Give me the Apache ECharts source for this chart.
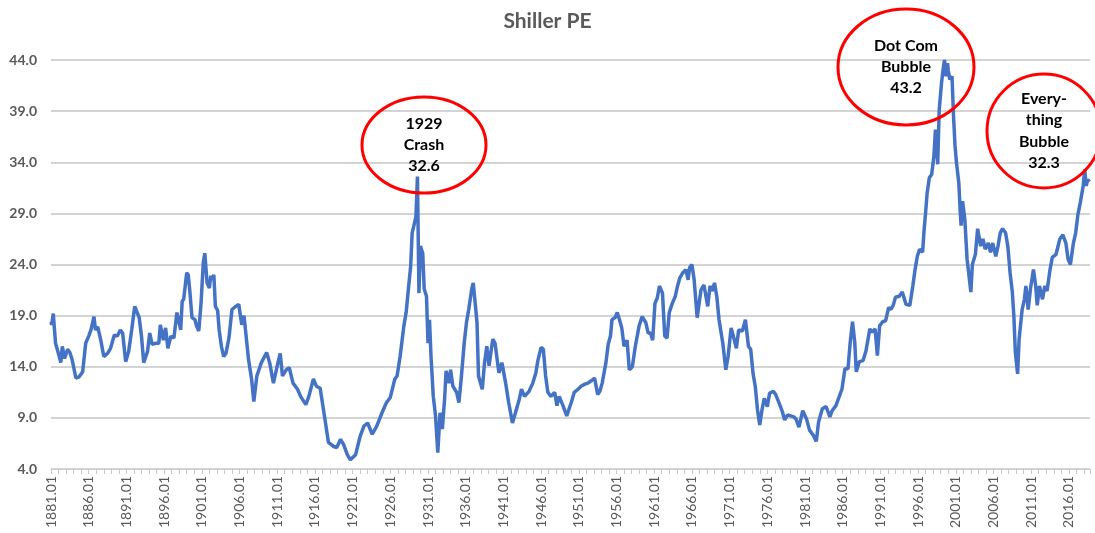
<!DOCTYPE html>
<html>
<head>
<meta charset="utf-8">
<script src="https://cdn.jsdelivr.net/npm/echarts@6/dist/echarts.min.js"></script>
<style>html,body{margin:0;padding:0;background:#fff}#c{width:1095px;height:533px}</style>
</head>
<body>
<div id="c"></div>
<script>
// ---- data (decimal year, Shiller PE) ----
const years = [
1881.0,1881.1,1881.3,1881.6,1882.1,1882.3,1882.5,1882.8,1883.2,1883.5,1883.8,1884.3,1884.7,1885.2,1885.6,
1886.0,1886.3,1886.7,1886.9,1887.2,1887.6,1888.0,1888.5,1888.9,1889.4,1889.8,1890.2,1890.5,1890.9,1891.3,
1891.7,1892.1,1892.7,1893.0,1893.3,1893.8,1894.1,1894.4,1894.9,1895.3,1895.5,1895.9,1896.2,1896.5,1896.9,
1897.3,1897.7,1898.0,1898.2,1898.4,1898.6,1899.0,1899.2,1899.4,1899.7,1900.1,1900.3,1900.6,1900.9,1901.2,
1901.4,1901.7,1902.0,1902.2,1902.4,1902.6,1902.8,1903.1,1903.3,1903.6,1903.9,1904.2,1904.6,1905.0,1905.5,
1905.9,1906.3,1906.6,1907.2,1907.6,1907.9,1908.3,1908.9,1909.6,1910.0,1910.5,1911.1,1911.4,1911.7,1912.2,
1912.6,1913.1,1913.7,1914.1,1914.8,1915.2,1915.8,1916.2,1916.7,1917.2,1917.8,1918.5,1918.9,1919.4,1919.8,
1920.3,1920.7,1921.4,1922.0,1922.5,1923.0,1923.6,1924.2,1924.9,1925.5,1926.0,1926.2,1926.6,1926.9,1927.3,
1927.8,1928.1,1928.4,1928.7,1928.9,1929.1,1929.4,1929.6,1929.8,1930.0,1930.3,1930.5,1930.8,1931.0,1931.2,
1931.4,1931.7,1932.0,1932.3,1932.6,1932.9,1933.2,1933.4,1933.8,1934.0,1934.3,1934.8,1935.1,1935.4,1935.8,
1936.1,1936.4,1936.8,1937.0,1937.3,1937.5,1937.7,1938.2,1938.5,1938.8,1939.1,1939.4,1939.6,1939.9,1940.4,
1940.8,1941.3,1941.7,1942.2,1942.6,1943.1,1943.4,1943.8,1944.4,1944.9,1945.3,1945.6,1946.0,1946.3,1946.6,
1946.9,1947.3,1947.8,1948.1,1948.4,1948.9,1949.4,1950.0,1950.4,1950.9,1951.3,1951.8,1952.2,1952.6,1953.1,
1953.5,1953.8,1954.1,1954.6,1954.9,1955.2,1955.4,1955.8,1956.1,1956.4,1956.7,1957.0,1957.4,1957.7,1958.1,
1958.5,1959.0,1959.4,1959.9,1960.2,1960.5,1960.8,1961.1,1961.4,1961.7,1962.1,1962.4,1962.7,1963.0,1963.4,
1963.8,1964.1,1964.4,1964.8,1965.2,1965.5,1965.7,1966.0,1966.3,1966.7,1967.2,1967.6,1968.1,1968.4,1968.7,
1969.0,1969.3,1969.6,1970.1,1970.5,1970.8,1971.2,1971.5,1971.9,1972.2,1972.7,1973.1,1973.5,1973.8,1974.1,
1974.4,1974.7,1975.0,1975.3,1975.6,1976.0,1976.3,1976.8,1977.1,1977.6,1978.0,1978.3,1978.7,1979.1,1979.5,
1979.8,1980.2,1980.7,1981.2,1981.6,1982.1,1982.5,1982.8,1983.3,1983.8,1984.3,1984.6,1985.1,1985.5,1985.9,
1986.3,1986.7,1987.0,1987.3,1987.6,1987.8,1988.2,1988.7,1989.1,1989.6,1989.9,1990.3,1990.6,1990.9,1991.3,
1991.7,1992.1,1992.4,1992.7,1993.0,1993.5,1993.9,1994.4,1994.9,1995.3,1995.6,1995.9,1996.2,1996.6,1996.8,
1997.0,1997.2,1997.5,1997.8,1998.1,1998.3,1998.5,1998.6,1998.8,1999.1,1999.3,1999.5,1999.7,1999.9,2000.0,
2000.2,2000.5,2000.7,2000.9,2001.1,2001.4,2001.6,2001.7,2001.9,2002.2,2002.5,2002.8,2003.0,2003.2,2003.6,
2003.9,2004.3,2004.6,2004.9,2005.3,2005.6,2005.9,2006.3,2006.6,2006.9,2007.2,2007.6,2007.9,2008.2,2008.5,
2008.7,2008.9,2009.2,2009.4,2009.8,2010.1,2010.3,2010.6,2010.9,2011.3,2011.6,2011.8,2012.1,2012.5,2012.8,
2013.1,2013.5,2013.8,2014.3,2014.8,2015.2,2015.6,2015.9,2016.2,2016.6,2016.9,2017.2,2017.5,2017.9,2018.1,
2018.3,2018.5,2018.75
];
const pe = [
18.4,18.1,19.2,16.3,15.0,14.4,16.0,14.8,15.7,15.4,14.7,12.9,13.0,13.5,16.3,
17.0,17.6,18.9,17.6,17.9,16.6,15.0,15.3,15.8,17.1,17.0,17.6,17.3,14.5,15.5,
17.6,19.9,18.8,17.0,14.4,15.5,17.3,16.2,16.3,16.3,18.1,16.6,17.8,15.8,17.0,
16.8,19.3,18.3,17.6,20.4,20.6,23.2,23.0,21.5,18.8,18.6,18.0,17.5,20.2,24.2,
25.1,22.2,21.7,22.9,22.5,23.0,19.9,19.5,17.6,16.0,15.0,15.3,16.8,19.6,19.9,
20.1,18.1,19.0,14.7,12.8,10.6,13.1,14.4,15.4,14.4,12.4,14.4,15.3,13.1,13.7,
13.9,12.4,11.8,11.1,10.3,11.1,12.8,12.1,11.9,9.5,6.6,6.2,6.1,6.9,6.4,
5.4,4.9,5.4,7.2,8.2,8.5,7.4,8.2,9.5,10.5,11.0,11.1,12.8,13.1,15.0,
18.0,19.3,21.6,23.8,27.1,27.7,28.7,32.6,21.2,25.8,25.1,21.6,20.9,16.3,18.6,
15.0,11.1,9.2,5.6,9.5,7.9,10.8,13.6,12.4,13.7,12.1,11.5,10.5,12.8,16.3,
18.3,19.6,21.6,22.2,19.9,18.3,13.1,11.8,14.4,16.0,14.1,15.7,16.7,16.3,13.4,
14.4,12.4,10.5,8.5,9.5,10.8,11.8,11.1,11.6,12.4,13.4,14.7,15.9,15.7,13.1,
11.5,11.1,11.5,10.2,11.1,10.2,9.2,10.5,11.5,11.8,12.1,12.3,12.4,12.6,12.9,
11.3,11.6,12.4,14.4,16.2,17.0,18.6,18.8,19.3,18.6,17.8,16.0,16.6,13.7,14.0,
16.0,18.0,18.9,18.3,17.3,17.3,16.6,20.2,20.7,21.9,21.2,17.0,16.8,19.3,20.2,
20.9,21.9,22.7,23.2,23.5,22.5,23.7,24.0,22.5,18.8,21.5,22.0,19.9,21.9,21.4,
22.2,20.9,18.6,16.3,13.7,15.0,17.8,17.0,15.8,17.6,17.5,18.6,16.0,15.7,13.4,
12.1,9.8,8.3,9.8,10.9,10.1,11.4,11.6,11.3,10.4,9.6,8.8,9.3,9.2,9.1,
8.9,8.1,9.7,8.9,7.8,7.3,6.7,8.6,9.9,10.1,9.1,9.7,10.2,11.0,11.8,
13.8,13.8,16.4,18.4,16.4,13.5,14.5,14.6,15.6,17.7,17.4,17.7,15.1,18.0,18.4,
18.5,19.8,19.6,20.0,20.8,20.9,21.3,20.1,20.0,21.9,23.5,24.8,25.5,25.2,27.4,
29.1,31.0,32.5,32.8,34.6,37.2,35.2,33.8,39.1,41.7,43.0,44.0,42.4,43.7,43.0,
42.1,42.4,38.5,35.6,33.9,32.0,29.0,27.8,30.2,28.4,24.5,22.6,21.3,24.0,25.0,
27.5,25.8,26.5,25.5,26.1,25.2,26.1,24.8,25.8,27.1,27.5,27.1,25.8,23.2,21.3,
19.0,15.4,13.3,16.7,19.6,20.6,21.9,19.6,21.6,23.5,21.9,20.0,21.9,20.6,21.9,
21.4,23.5,24.7,25.0,26.5,26.9,26.1,24.5,24.0,26.1,27.1,28.9,30.0,31.7,33.3,
31.7,32.3,32.1
];
// axis ranges and labels
const X_START = 1881, X_END = 2018.8, X_STEP = 5;
const Y_MIN = 4, Y_MAX = 44, Y_STEP = 5;
const annotations = [
  { lines: ['1929', 'Crash', '32.6'] },
  { lines: ['Dot Com', 'Bubble', '43.2'] },
  { lines: ['Every-', 'thing', 'Bubble', '32.3'] }
];

// series built from the arrays (axes are offset so ticks start at a multiple of the interval)
const seriesData = years.map((y, i) => [y - X_START, pe[i] - Y_MIN]);

const chart = echarts.init(document.getElementById('c'), null, { renderer: 'canvas' });
const FONT = 'Lato, "Open Sans", sans-serif';
const grey = '#595959';

function ann(cx, cy, rx, ry, lines, lh) {
  const els = [{
    type: 'ellipse', z: 100,
    shape: { cx: cx, cy: cy, rx: rx, ry: ry },
    style: { fill: 'none', stroke: '#ff0000', lineWidth: 3 }
  }];
  const top = cy - (lines.length - 1) * lh / 2;
  lines.forEach((t, i) => {
    els.push({
      type: 'text', z: 101,
      x: cx, y: top + i * lh,
      style: { text: t, fill: '#000', font: 'bold 16px ' + FONT, textAlign: 'center', textVerticalAlign: 'middle' }
    });
  });
  return els;
}

chart.setOption({
  animation: false,
  backgroundColor: '#fff',
  title: {
    text: 'Shiller PE', left: 'center', top: 6,
    textStyle: { color: grey, fontFamily: FONT, fontWeight: 'bold', fontSize: 21 }
  },
  grid: { left: 51, right: 5, top: 60, bottom: 64, containLabel: false },
  xAxis: {
    type: 'value', min: 0, max: X_END - X_START, interval: X_STEP,
    axisLine: { show: true, lineStyle: { color: '#d0d0d0', width: 1 } },
    axisTick: { show: true, length: 5, lineStyle: { color: '#c8c8c8' } },
    minorTick: { show: true, splitNumber: 5, length: 5, lineStyle: { color: '#c8c8c8' } },
    splitLine: { show: false },
    axisLabel: {
      rotate: 90, margin: 7, color: grey, fontFamily: FONT, fontSize: 14,
      showMaxLabel: false,
      formatter: v => (Math.abs(v % X_STEP) < 1e-6) ? (X_START + Math.round(v)) + '.01' : ''
    }
  },
  yAxis: {
    type: 'value', min: 0, max: Y_MAX - Y_MIN, interval: Y_STEP,
    axisLine: { show: false }, axisTick: { show: false },
    splitLine: { show: true, lineStyle: { color: '#c6c6c6', width: 1.5 } },
    axisLabel: {
      margin: 14, color: grey, fontFamily: FONT, fontSize: 14, fontWeight: 'bold',
      formatter: v => (v + Y_MIN).toFixed(1)
    }
  },
  series: [{
    type: 'line', data: seriesData, showSymbol: false, symbol: 'none',
    lineStyle: { color: '#4472C4', width: 3.5 }, itemStyle: { color: '#4472C4' }
  }],
  graphic: [].concat(
    ann(424, 145, 62, 48, annotations[0].lines, 21),
    ann(906, 67, 68, 58, annotations[1].lines, 21),
    ann(1044, 131, 57, 57, annotations[2].lines, 21.5)
  )
});
</script>
</body>
</html>
